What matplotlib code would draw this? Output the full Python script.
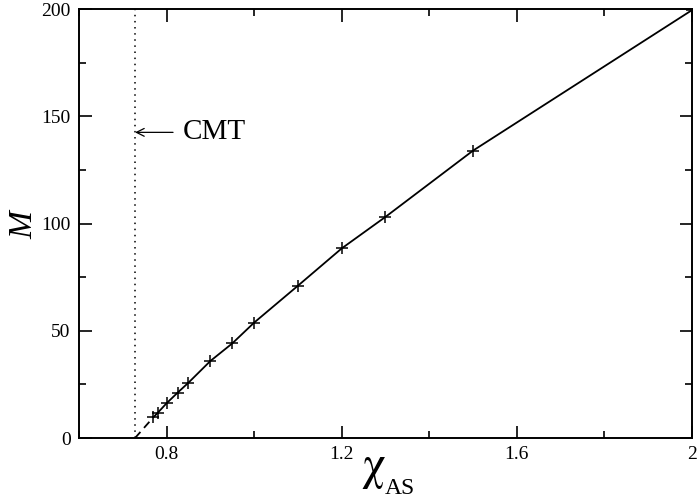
import matplotlib
matplotlib.use('Agg')
import matplotlib.pyplot as plt
from matplotlib.ticker import MultipleLocator

plt.rcParams['font.family'] = 'Liberation Serif'
plt.rcParams['mathtext.fontset'] = 'custom'
plt.rcParams['mathtext.rm'] = 'Liberation Serif'
plt.rcParams['mathtext.it'] = 'Liberation Serif:italic'

# data
chi = [0.77, 0.78, 0.80, 0.825, 0.85, 0.90, 0.95, 1.0, 1.1, 1.2, 1.3, 1.5, 2.0]
M = [9.7, 11.8, 16.2, 21.1, 25.8, 35.9, 44.1, 53.8, 71.0, 88.4, 103.1, 134.0, 199.5]
chi_cmt = 0.728

fig = plt.figure(figsize=(6.99, 5.01), dpi=100)
ax = fig.add_axes([0.113, 0.1257, 0.877, 0.8563])

ax.plot(chi, M, color='black', lw=1.3, marker='+', ms=9, mew=1.1)
# extrapolation to the critical point
ax.plot([chi_cmt, chi[0]], [0, M[0]], color='black', lw=1.3, dashes=(4.5, 3))
ax.axvline(chi_cmt, color='black', lw=1.1, dashes=(1, 3))

ax.annotate('CMT', xy=(chi_cmt, 142.5), xytext=(0.837, 142.5),
            fontsize=21, va='center', ha='left',
            arrowprops=dict(arrowstyle='->', color='black', lw=0.9,
                            shrinkA=5, shrinkB=0, mutation_scale=14))

ax.set_xlim(0.6, 2.0)
ax.set_ylim(0, 200)
ax.xaxis.set_minor_locator(MultipleLocator(0.2))
ax.yaxis.set_major_locator(MultipleLocator(50))
ax.yaxis.set_minor_locator(MultipleLocator(25))
ax.set_xticks([0.8, 1.2, 1.6, 2.0])
ax.set_xticklabels(['0.8', '1.2', '1.6', '2'])
ax.tick_params(which='both', direction='in', top=True, right=True, labelsize=14, width=1.2)
ax.tick_params(which='major', length=9, pad=6)
ax.tick_params(which='minor', length=5)
for s in ax.spines.values():
    s.set_linewidth(1.4)

# x label: big chi with a small AS subscript
ax.text(0.499, -0.096, '\u03c7', transform=ax.transAxes, fontsize=34,
        family='STIXGeneral', ha='right', va='baseline')
ax.text(0.499, -0.1305, 'AS', transform=ax.transAxes, fontsize=17,
        ha='left', va='baseline')
ax.set_ylabel(r'$M$', fontsize=24, labelpad=2)

fig.savefig('out.png', dpi=100)
